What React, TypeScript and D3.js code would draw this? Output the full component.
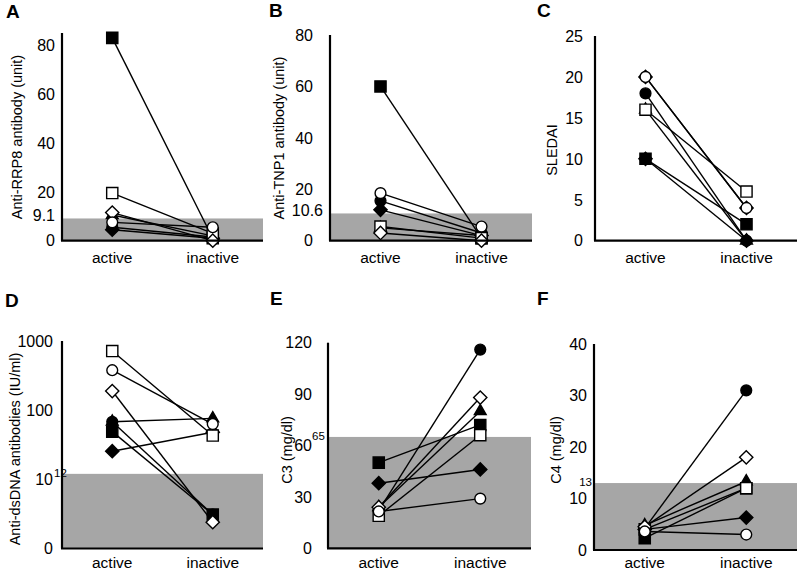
import React from "react";
import * as d3 from "d3";

// ---- data ----
const categories = ["active", "inactive"];
// series order: black circle, black triangle, black square, black diamond, open square, open diamond, open circle
const seriesShapes = ["circle", "triangle", "square", "diamond", "square", "diamond", "circle"];
const seriesFilled = [true, true, true, true, false, false, false];

const rrp8Active = [5.5, 10.5, 83, 4.5, 19.5, 11.5, 7.5];
const rrp8Inactive = [1.5, 2, 1, 1, 3, 0, 5.5];
const tnp1Active = [15.5, 5, 60, 12, 5.5, 3, 18.5];
const tnp1Inactive = [3, 2, 1, 2, 1, 0, 5.5];
const sledaiActive = [18, 16, 10, 10, 16, 20, 20];
const sledaiInactive = [0, 0, 2, 0, 6, 4, 4];
const dsdnaActive = [68, 68, 49, 25.5, 716, 189, 378];
const dsdnaInactive = [3.1, 76, 3.1, 48, 43, 2.4, 63];
const c3Active = [22, 24, 50, 38, 19, 24, 21.5];
const c3Inactive = [116, 80, 72, 46, 66, 88, 29];
const c4Active = [4.2, 4.8, 2.3, 4, 4, 4.5, 3.6];
const c4Inactive = [31, 13.3, 12, 6.3, 12, 18, 3];

const panelLetters = ["A", "B", "C", "D", "E", "F"];
const yTitles = [
  "Anti-RRP8 antibody (unit)",
  "Anti-TNP1 antibody (unit)",
  "SLEDAI",
  "Anti-dsDNA antibodies (IU/ml)",
  "C3 (mg/dl)",
  "C4 (mg/dl)",
];
const thresholds = [9.1, 10.6, null, 12, 65, 13];
const thresholdLabels = ["9.1", "10.6", "", "12", "65", "13"];
const ticksA = [0, 20, 40, 60, 80];
const ticksB = [0, 20, 40, 60, 80];
const ticksC = [0, 5, 10, 15, 20, 25];
const ticksD = [1, 10, 100, 1000];
const tickLabelsD = ["0", "10", "100", "1000"];
const ticksE = [0, 30, 60, 90, 120];
const ticksF = [0, 10, 20, 30, 40];

// ---- layout ----
const FONT = "'Liberation Sans', Arial, sans-serif";
const GRAY = "#a6a6a6";

type Panel = {
  letter: string;
  title: string;
  active: number[];
  inactive: number[];
  log: boolean;
  domain: [number, number];
  ticks: number[];
  tickLabels: string[];
  thr: number | null;
  thrLabel: string;
  thrSmall: boolean;
  ax: number;
  xEnd: number;
  yTop: number;
  yBase: number;
  labelRight: number;
  thrX: number;
  thrAnchor: string;
  titleX: number;
  titleY: number;
  letterX: number;
  letterY: number;
  catY: number;
};

const panels: Panel[] = [
  { letter: panelLetters[0], title: yTitles[0], active: rrp8Active, inactive: rrp8Inactive, log: false, domain: [0, 85], ticks: ticksA, tickLabels: ticksA.map(String), thr: thresholds[0], thrLabel: thresholdLabels[0], thrSmall: false, ax: 62, xEnd: 263, yTop: 33, yBase: 240.7, labelRight: 55, thrX: 55, thrAnchor: "end", titleX: 16.5, titleY: 137, letterX: 6, letterY: 18, catY: 263 },
  { letter: panelLetters[1], title: yTitles[1], active: tnp1Active, inactive: tnp1Inactive, log: false, domain: [0, 80], ticks: ticksB, tickLabels: ticksB.map(String), thr: thresholds[1], thrLabel: thresholdLabels[1], thrSmall: false, ax: 330, xEnd: 532, yTop: 35, yBase: 240.7, labelRight: 313, thrX: 323, thrAnchor: "end", titleX: 278.5, titleY: 138, letterX: 269, letterY: 17, catY: 263 },
  { letter: panelLetters[2], title: yTitles[2], active: sledaiActive, inactive: sledaiInactive, log: false, domain: [0, 25], ticks: ticksC, tickLabels: ticksC.map(String), thr: thresholds[2], thrLabel: thresholdLabels[2], thrSmall: false, ax: 595, xEnd: 797, yTop: 36, yBase: 240.7, labelRight: 583, thrX: 583, thrAnchor: "end", titleX: 552, titleY: 150, letterX: 537, letterY: 17, catY: 263 },
  { letter: panelLetters[3], title: yTitles[3], active: dsdnaActive, inactive: dsdnaInactive, log: true, domain: [1, 1000], ticks: ticksD, tickLabels: tickLabelsD, thr: thresholds[3], thrLabel: thresholdLabels[3], thrSmall: true, ax: 62, xEnd: 263, yTop: 341, yBase: 548.5, labelRight: 53, thrX: 54, thrAnchor: "start", titleX: 15, titleY: 449, letterX: 5, letterY: 307, catY: 568 },
  { letter: panelLetters[4], title: yTitles[4], active: c3Active, inactive: c3Inactive, log: false, domain: [0, 120], ticks: ticksE, tickLabels: ticksE.map(String), thr: thresholds[4], thrLabel: thresholdLabels[4], thrSmall: true, ax: 328, xEnd: 531, yTop: 342.7, yBase: 548.3, labelRight: 312, thrX: 312, thrAnchor: "start", titleX: 286.5, titleY: 450, letterX: 270, letterY: 305, catY: 568 },
  { letter: panelLetters[5], title: yTitles[5], active: c4Active, inactive: c4Inactive, log: false, domain: [0, 40], ticks: ticksF, tickLabels: ticksF.map(String), thr: thresholds[5], thrLabel: thresholdLabels[5], thrSmall: true, ax: 594, xEnd: 797, yTop: 344, yBase: 550, labelRight: 587, thrX: 592, thrAnchor: "end", titleX: 556, titleY: 450, letterX: 537, letterY: 305, catY: 568 },
];

const symPath = (shape: string) => {
  if (shape === "circle") return d3.symbol().type(d3.symbolCircle).size(92)()!;
  if (shape === "triangle") return d3.symbol().type(d3.symbolTriangle).size(60)()!;
  if (shape === "square") return d3.symbol().type(d3.symbolSquare).size(125)()!;
  return d3.symbol().type(d3.symbolSquare).size(88)()!;
};

function PanelView({ p }: { p: Panel }) {
  const y = p.log
    ? d3.scaleLog().domain(p.domain).range([p.yBase, p.yTop])
    : d3.scaleLinear().domain(p.domain).range([p.yBase, p.yTop]);
  const x = d3.scalePoint<string>().domain(categories).range([p.ax, p.xEnd]).padding(0.5);
  const line = d3
    .line<[string, number]>()
    .x((d) => x(d[0])!)
    .y((d) => y(d[1]));
  const pts = p.active.map((a, i) => [
    [categories[0], a],
    [categories[1], p.inactive[i]],
  ] as [string, number][]);
  return (
    <g>
      <text x={p.letterX} y={p.letterY} fontFamily={FONT} fontWeight="bold" fontSize={19}>
        {p.letter}
      </text>
      {p.thr !== null && (
        <rect x={p.ax} y={y(p.thr)} width={p.xEnd - p.ax} height={p.yBase - y(p.thr)} fill={GRAY} />
      )}
      {pts.map((d, i) => (
        <path key={"l" + i} d={line(d)!} fill="none" stroke="#000" strokeWidth={1.4} />
      ))}
      {pts.map((d, i) =>
        d.map((pt, j) => {
          const shape = seriesShapes[i];
          return (
            <path
              key={"m" + i + "-" + j}
              d={symPath(shape)}
              transform={`translate(${x(pt[0])},${y(pt[1])})${shape === "diamond" ? " rotate(45)" : ""}`}
              fill={seriesFilled[i] ? "#000" : "#fff"}
              stroke="#000"
              strokeWidth={1.4}
            />
          );
        })
      )}
      <line x1={p.ax} x2={p.ax} y1={p.yTop} y2={p.yBase} stroke="#000" strokeWidth={2.2} />
      <line x1={p.ax - 1} x2={p.xEnd} y1={p.yBase} y2={p.yBase} stroke="#000" strokeWidth={2.2} />
      {p.ticks.map((t, i) => (
        <text key={"t" + i} x={p.labelRight} y={y(t)} dy="0.36em" textAnchor="end" fontFamily={FONT} fontSize={16}>
          {p.tickLabels[i]}
        </text>
      ))}
      {p.thr !== null &&
        (p.thrSmall ? (
          <text x={p.thrX} y={y(p.thr) + 3} textAnchor={p.thrAnchor} fontFamily={FONT} fontSize={11.5}>
            {p.thrLabel}
          </text>
        ) : (
          <text x={p.thrX} y={y(p.thr) - 3} dy="0.36em" textAnchor={p.thrAnchor} fontFamily={FONT} fontSize={16}>
            {p.thrLabel}
          </text>
        ))}
      {categories.map((c) => (
        <text key={c} x={x(c)} y={p.catY} textAnchor="middle" fontFamily={FONT} fontSize={15.5}>
          {c}
        </text>
      ))}
      <text
        transform={`translate(${p.titleX},${p.titleY}) rotate(-90)`}
        textAnchor="middle"
        dy="0.35em"
        fontFamily={FONT}
        fontSize={14.5}
      >
        {p.title}
      </text>
    </g>
  );
}

export default function App() {
  return (
    <svg
      width={799}
      height={572}
      style={{ position: "absolute", left: 0, top: 0, background: "#fff" }}
    >
      <rect width={799} height={572} fill="#fff" />
      {panels.map((p) => (
        <PanelView key={p.letter} p={p} />
      ))}
    </svg>
  );
}
